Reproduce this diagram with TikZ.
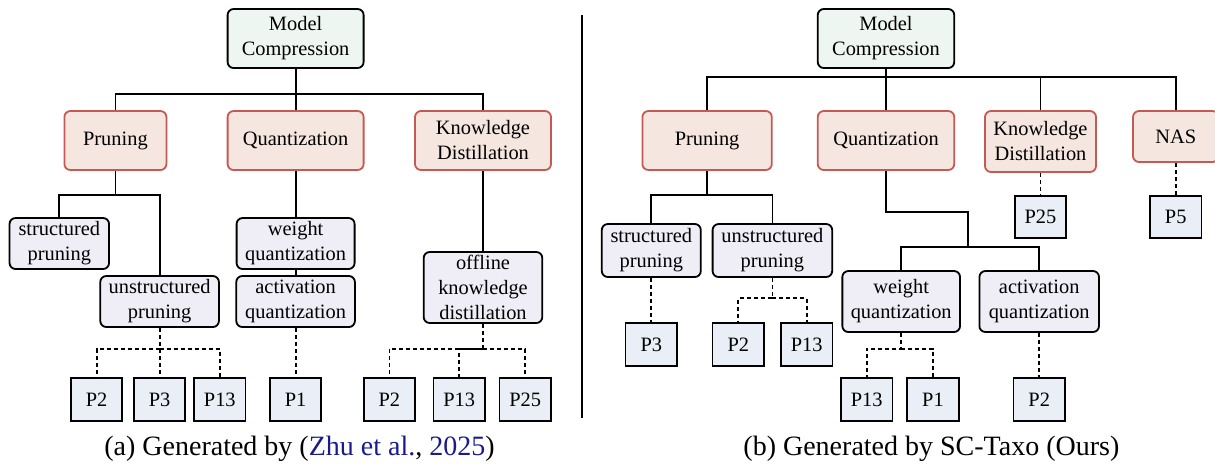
\documentclass[tikz,border=0pt]{standalone}
\usepackage{fontspec}
\setmainfont{Liberation Serif}
\usepackage{tikz}
\usetikzlibrary{arrows.meta}
\usetikzlibrary{positioning}

\definecolor{rootfill}{HTML}{EEF6F1}
\definecolor{catfill}{HTML}{F5E6DF}
\definecolor{catdraw}{HTML}{C55A55}
\definecolor{subfill}{HTML}{EFEDF5}
\definecolor{paperfill}{HTML}{E9EEF7}
\definecolor{linkblue}{HTML}{1A1A8C}

\begin{document}
\begin{tikzpicture}[x=0.5pt,y=-0.5pt]
            \tikzset{every node/.style={align=center, inner sep=0pt, line width=0.9pt,
                        font=\rmfamily\fontsize{10.2}{12.5}\selectfont},
                    rootbox/.style={draw=black, fill=rootfill, rounded corners=3pt},
                    catbox/.style={draw=catdraw, fill=catfill, rounded corners=3pt},
                    subbox/.style={draw=black, fill=subfill, rounded corners=3pt},
                    paperbox/.style={draw=black, fill=paperfill, minimum width=25.75pt, minimum height=21.5pt},
                    link/.style={draw=black, line width=0.9pt},
                    cite/.style={draw=black, line width=0.9pt, dash pattern=on 2pt off 1.5pt},
                    caption/.style={font=\rmfamily\fontsize{14}{16}\selectfont}}
            \useasboundingbox (0,0) rectangle (1215,463);
            % (a) left tree
            \node[rootbox, minimum width=68pt, minimum height=29.5pt] (lroot) at (295.6, 38.5) {Model\\Compression};
            \node[catbox, minimum width=51pt, minimum height=29.5pt] (lprun) at (115.4, 140.5) {Pruning};
            \node[catbox, minimum width=68pt, minimum height=29.5pt] (lquant) at (295.6, 140.5) {Quantization};
            \node[catbox, minimum width=68pt, minimum height=29.5pt] (lkd) at (483, 140.5) {Knowledge\\Distillation};
            \node[subbox, minimum width=49.75pt, minimum height=25.5pt] (lstruct) at (59.3, 243.5) {structured\\pruning};
            \node[subbox, minimum width=59.3pt, minimum height=25.5pt] (lunstr) at (159.6, 301.5) {unstructured\\pruning};
            \node[subbox, minimum width=59pt, minimum height=25.5pt] (lweight) at (295.6, 243.5) {weight\\quantization};
            \node[subbox, minimum width=59.3pt, minimum height=25.5pt] (lact) at (295.6, 301.5) {activation\\quantization};
            \node[subbox, minimum width=59.3pt, minimum height=35.5pt] (loffline) at (483, 287.5) {offline\\knowledge\\distillation};
            \node[paperbox] (lp2) at (96.6, 399.5) {P2};
            \node[paperbox] (lp3) at (159.6, 399.5) {P3};
            \node[paperbox] (lp13) at (219.8, 399.5) {P13};
            \node[paperbox] (lp1) at (295.6, 399.5) {P1};
            \node[paperbox] (lp2b) at (389.4, 399.5) {P2};
            \node[paperbox] (lp13b) at (459.2, 399.5) {P13};
            \node[paperbox] (lp25) at (525.2, 399.5) {P25};
            \coordinate (lbus) at (295.6, 94);
            \coordinate (lbus2) at (115.4, 195);
            \coordinate (ldash) at (159.6, 349);
            \coordinate (ldash2) at (483, 349);
            \path [link] (lroot.south) -- (lbus) -| (lprun.north);
            \path [link] (lbus) -- (lquant.north);
            \path [link] (lbus) -| (lkd.north);
            \path [link] (lprun.south) -- (lbus2) -| (lstruct.north);
            \path [link] (lbus2) -| (lunstr.north);
            \path [link] (lquant.south) -- (lweight.north);
            \path [link] (lweight.south) -- (lact.north);
            \path [link] (lkd.south) -- (loffline.north);
            \path [cite] (lunstr.south) -- (ldash) -| (lp2.north);
            \path [cite] (ldash) -- (lp3.north);
            \path [cite] (ldash) -| (lp13.north);
            \path [cite] (lact.south) -- (lp1.north);
            \path [cite] (loffline.south) -- (ldash2) -| (lp2b.north);
            \path [cite] (ldash2) -| (lp13b.north);
            \path [cite] (ldash2) -| (lp25.north);
            \node[caption] (lcap) at (299.5, 449) {(a) Generated by (\textcolor{linkblue}{Zhu et al.}, \textcolor{linkblue}{2025})};
            % divider
            \draw[line width=0.9pt] (582, 15) -- (582, 418);
            % (b) right tree
            \node[rootbox, minimum width=68.25pt, minimum height=29.5pt] (rroot) at (886, 38.5) {Model\\Compression};
            \node[catbox, minimum width=64.7pt, minimum height=29.5pt] (rprun) at (707.1, 140.5) {Pruning};
            \node[catbox, minimum width=68.25pt, minimum height=29.5pt] (rquant) at (886, 140.5) {Quantization};
            \node[catbox, minimum width=55.5pt, minimum height=30.5pt] (rkd) at (1040.5, 141.5) {Knowledge\\Distillation};
            \node[catbox, minimum width=42.7pt, minimum height=25.5pt] (rnas) at (1175.7, 136.5) {NAS};
            \node[paperbox, minimum height=21pt] (rp25) at (1040.5, 217) {P25};
            \node[paperbox, minimum height=21pt] (rp5) at (1175.7, 217) {P5};
            \node[subbox, minimum width=49.5pt, minimum height=26.5pt] (rstruct) at (651.3, 250.5) {structured\\pruning};
            \node[subbox, minimum width=59.8pt, minimum height=26.5pt] (runstr) at (772.4, 250.5) {unstructured\\pruning};
            \node[paperbox] (rp3) at (651.3, 344.5) {P3};
            \node[paperbox] (rp2) at (738.3, 344.5) {P2};
            \node[paperbox] (rp13) at (806.7, 344.5) {P13};
            \node[subbox, minimum width=58.85pt, minimum height=30.5pt] (rweight) at (901.2, 301.5) {weight\\quantization};
            \node[subbox, minimum width=59.8pt, minimum height=30.5pt] (ract) at (1039.2, 301.5) {activation\\quantization};
            \node[paperbox] (rp13b) at (866.7, 399.5) {P13};
            \node[paperbox] (rp1) at (933, 399.5) {P1};
            \node[paperbox] (rp2b) at (1039.2, 399.5) {P2};
            \coordinate (rbus) at (886, 77);
            \coordinate (rbus2) at (707.1, 195);
            \coordinate (rbend) at (967.9, 212);
            \coordinate (rbus3) at (967.9, 247);
            \coordinate (rdash) at (772.4, 298);
            \coordinate (rdash2) at (901.2, 349);
            \path [link] (rroot.south) -- (rbus) -| (rprun.north);
            \path [link] (rbus) -- (rquant.north);
            \path [link] (rbus) -| (rkd.north);
            \path [link] (rbus) -| (rnas.north);
            \path [link] (rprun.south) -- (rbus2) -| (rstruct.north);
            \path [link] (rbus2) -| (runstr.north);
            \path [link] (rquant.south) |- (rbend) -- (rbus3) -| (rweight.north);
            \path [link] (rbus3) -| (ract.north);
            \path [cite] (rkd.south) -- (rp25.north);
            \path [cite] (rnas.south) -- (rp5.north);
            \path [cite] (rstruct.south) -- (rp3.north);
            \path [cite] (runstr.south) -- (rdash) -| (rp2.north);
            \path [cite] (rdash) -| (rp13.north);
            \path [cite] (rweight.south) -- (rdash2) -| (rp13b.north);
            \path [cite] (rdash2) -| (rp1.north);
            \path [cite] (ract.south) -- (rp2b.north);
            \node[caption] (rcap) at (931.4, 449) {(b) Generated by SC-Taxo (Ours)};
        \end{tikzpicture}
\end{document}
